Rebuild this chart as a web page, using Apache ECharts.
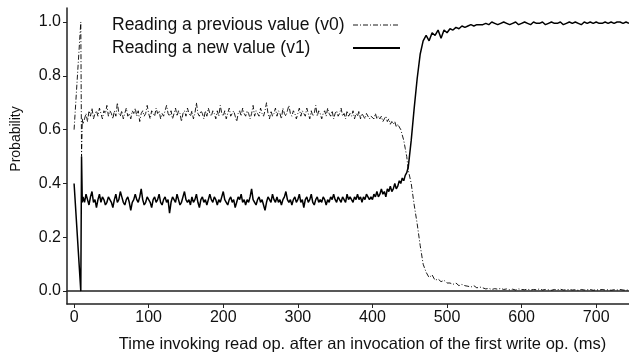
<!DOCTYPE html>
<html>
<head>
<meta charset="utf-8">
<script src="https://cdn.jsdelivr.net/npm/echarts@6/dist/echarts.min.js"></script>
<style>html,body{margin:0;padding:0;background:#fff}#c{width:629px;height:358px}</style>
</head>
<body>
<div id="c"></div>
<script>
// Sampling segments (ms): [start, step, count]
const segments = [[0,9,2],[10,1,2],[12,2,194],[400,2,24],[448,4,7],[476,4,18],[548,4,50]];

// Probability of reading the previous value (v0)
const v0Start = [0.60, 1.00, 0.50, 0.64];
const v0Plateau = [
0.62,0.64,0.66,0.63,0.67,0.65,0.68,0.64,0.66,0.67,
0.65,0.68,0.66,0.64,0.67,0.66,0.69,0.65,0.67,0.66,
0.64,0.67,0.65,0.70,0.66,0.65,0.67,0.64,0.66,0.68,
0.65,0.66,0.64,0.67,0.66,0.68,0.65,0.67,0.63,0.66,
0.67,0.65,0.66,0.69,0.66,0.64,0.67,0.66,0.65,0.68,
0.66,0.67,0.64,0.66,0.65,0.67,0.69,0.66,0.65,0.67,
0.64,0.66,0.68,0.65,0.67,0.66,0.63,0.66,0.67,0.65,
0.68,0.66,0.65,0.67,0.64,0.66,0.70,0.66,0.65,0.67,
0.66,0.64,0.67,0.65,0.68,0.66,0.65,0.67,0.66,0.64,
0.67,0.65,0.69,0.66,0.65,0.67,0.64,0.66,0.68,0.65,
0.66,0.67,0.65,0.63,0.66,0.67,0.65,0.68,0.66,0.65,
0.67,0.66,0.64,0.66,0.69,0.65,0.67,0.66,0.65,0.68,
0.66,0.65,0.67,0.70,0.66,0.64,0.67,0.65,0.66,0.68,
0.65,0.67,0.66,0.64,0.68,0.66,0.65,0.67,0.69,0.66,
0.65,0.67,0.66,0.64,0.66,0.68,0.65,0.67,0.66,0.65,
0.68,0.66,0.64,0.67,0.65,0.66,0.69,0.65,0.67,0.66,
0.64,0.66,0.67,0.65,0.68,0.66,0.65,0.67,0.64,0.66,
0.67,0.65,0.66,0.68,0.65,0.66,0.64,0.67,0.65,0.66,
0.65,0.67,0.64,0.66,0.65,0.67,0.64,0.66,0.65,0.64,
0.66,0.65,0.64,0.65];
const v0Decline = [0.65,0.64,0.66,0.64,0.65,0.64,0.65,0.63,0.64,0.65,0.63,0.64,
0.62,0.63,0.62,0.63,0.61,0.62,0.61,0.60,0.58,0.56,0.53,0.50];
const v0Drop = [0.45,0.40,0.32,0.25,0.17,0.10,0.07];
const v0Tail = [0.05,0.06,0.04,0.045,0.035,0.04,0.03,0.03,0.025,0.03,0.02,0.025,0.02,0.018,0.015,0.02,0.012,0.015];
const v0Flat = [
0.012,0.008,0.01,0.006,0.009,0.007,0.01,0.006,0.008,0.005,
0.007,0.004,0.008,0.006,0.005,0.007,0.004,0.006,0.005,0.008,
0.004,0.006,0.005,0.003,0.006,0.005,0.007,0.004,0.005,0.006,
0.004,0.005,0.003,0.006,0.004,0.005,0.006,0.003,0.005,0.004,
0.006,0.004,0.005,0.003,0.005,0.004,0.006,0.004,0.003,0.005];

// Probability of reading the new value (v1)
const v1Start = [0.40, 0.00, 0.50, 0.33];
const v1Plateau = [
0.35,0.33,0.36,0.34,0.32,0.35,0.37,0.33,0.34,0.31,
0.34,0.36,0.33,0.35,0.34,0.32,0.33,0.35,0.34,0.33,
0.31,0.34,0.36,0.33,0.34,0.37,0.35,0.33,0.32,0.34,
0.35,0.33,0.30,0.33,0.34,0.36,0.34,0.33,0.35,0.38,
0.34,0.32,0.33,0.35,0.34,0.33,0.31,0.34,0.35,0.33,
0.34,0.36,0.33,0.32,0.34,0.35,0.33,0.34,0.29,0.33,
0.35,0.34,0.33,0.36,0.34,0.32,0.33,0.35,0.37,0.34,
0.33,0.34,0.32,0.35,0.33,0.34,0.36,0.33,0.31,0.34,
0.35,0.33,0.34,0.32,0.34,0.36,0.34,0.33,0.35,0.34,
0.32,0.34,0.33,0.35,0.37,0.34,0.33,0.32,0.34,0.35,
0.33,0.34,0.31,0.33,0.35,0.34,0.36,0.33,0.34,0.32,
0.34,0.33,0.35,0.38,0.34,0.33,0.32,0.34,0.35,0.33,
0.34,0.32,0.30,0.33,0.35,0.34,0.33,0.36,0.34,0.33,
0.35,0.33,0.34,0.32,0.34,0.35,0.37,0.34,0.33,0.34,
0.32,0.34,0.35,0.33,0.34,0.36,0.33,0.34,0.31,0.34,
0.35,0.33,0.34,0.36,0.33,0.32,0.34,0.35,0.33,0.34,
0.33,0.35,0.34,0.32,0.34,0.33,0.35,0.34,0.36,0.34,
0.33,0.35,0.34,0.33,0.35,0.34,0.33,0.36,0.34,0.35,
0.34,0.33,0.35,0.34,0.36,0.34,0.35,0.33,0.35,0.34,
0.36,0.35,0.34,0.35];
const v1Rise = [0.34,0.36,0.35,0.37,0.35,0.36,0.38,0.36,0.37,0.35,0.38,0.37,
0.39,0.37,0.38,0.40,0.38,0.39,0.41,0.40,0.42,0.41,0.43,0.44];
const v1Jump = [0.46,0.56,0.68,0.79,0.88,0.93,0.95];
const v1Tail = [0.93,0.96,0.95,0.97,0.94,0.97,0.96,0.975,0.97,0.98,0.975,0.985,0.98,0.985,0.99,0.985,0.99,0.99];
const v1Flat = [
0.99,0.995,0.99,1.0,0.995,0.99,0.995,1.0,0.995,0.99,
0.995,1.0,0.99,0.995,1.0,0.995,0.99,1.0,0.995,0.995,
1.0,0.99,0.995,1.0,0.995,0.995,1.0,0.99,0.995,1.0,
0.995,1.0,0.995,0.99,1.0,0.995,1.0,0.995,1.0,0.995,
0.995,1.0,0.995,1.0,0.995,1.0,1.0,0.995,1.0,0.995];

const xTicks = [0,100,200,300,400,500,600,700];
const yTicks = [0,0.2,0.4,0.6,0.8,1.0];
const seriesNames = ['Reading a previous value (v0)', 'Reading a new value (v1)'];

const times = [];
segments.forEach(([s, st, n]) => { for (let i = 0; i < n; i++) times.push(s + i * st); });
const v0 = v0Start.concat(v0Plateau, v0Decline, v0Drop, v0Tail, v0Flat);
const v1 = v1Start.concat(v1Plateau, v1Rise, v1Jump, v1Tail, v1Flat);
const pairs = vals => times.map((t, i) => [t, vals[i]]);

const FONT = '"Liberation Sans", Arial, sans-serif';
const AX = '#222';
const DASHDOT = [5, 2, 1, 2];
const chart = echarts.init(document.getElementById('c'), null, {renderer: 'canvas'});
chart.setOption({
  animation: false,
  backgroundColor: '#fff',
  grid: {left: 67, right: 0, top: 8, bottom: 52, containLabel: false},
  legend: {show: false},
  graphic: [
    {type: 'text', left: 112, top: 16, style: {text: seriesNames[0], font: '17.5px ' + FONT, fill: '#111'}},
    {type: 'line', shape: {x1: 353, y1: 25, x2: 400, y2: 25}, style: {stroke: '#000', lineWidth: 0.9, lineDash: DASHDOT}},
    {type: 'text', left: 112, top: 39.5, style: {text: seriesNames[1], font: '17.5px ' + FONT, fill: '#111'}},
    {type: 'line', shape: {x1: 353, y1: 48, x2: 400, y2: 48}, style: {stroke: '#000', lineWidth: 2}}
  ],
  xAxis: [{
    type: 'value', min: -9.5, max: 744,
    axisLine: {show: true, onZero: false, lineStyle: {color: AX, width: 1.5}},
    axisTick: {show: true, length: 4, customValues: xTicks, lineStyle: {color: AX, width: 1}},
    axisLabel: {customValues: xTicks, margin: 6, fontFamily: FONT, fontSize: 16, color: '#111'},
    splitLine: {show: false},
    name: 'Time invoking read op. after an invocation of the first write op. (ms)',
    nameLocation: 'middle', nameGap: 32,
    nameTextStyle: {fontFamily: FONT, fontSize: 16.5, color: '#111', padding: [0,0,0,29]}
  }, {
    type: 'value', min: -9.5, max: 744, position: 'top',
    axisLine: {show: true, lineStyle: {color: AX, width: 1.5}},
    axisTick: {show: false}, axisLabel: {show: false}, splitLine: {show: false}
  }],
  yAxis: {
    type: 'value', min: -0.048, max: 1.052,
    axisLine: {show: true, onZero: false, lineStyle: {color: AX, width: 1.5}},
    axisTick: {show: true, length: 4, customValues: yTicks, lineStyle: {color: AX, width: 1}},
    axisLabel: {customValues: yTicks, margin: 6, fontFamily: FONT, fontSize: 16, color: '#111',
      formatter: v => v.toFixed(1)},
    splitLine: {show: false},
    name: 'Probability', nameLocation: 'middle', nameGap: 44,
    nameTextStyle: {fontFamily: FONT, fontSize: 14, color: '#111', padding: [0,0,0,34]}
  },
  series: [{
    name: seriesNames[0], type: 'line', data: pairs(v0), symbol: 'none', z: 3,
    color: '#000',
    lineStyle: {color: '#000', width: 0.9, type: DASHDOT}
  }, {
    name: seriesNames[1], type: 'line', data: pairs(v1), symbol: 'none', z: 2,
    color: '#000',
    lineStyle: {color: '#000', width: 1.5, type: 'solid'}
  }]
});
</script>
</body>
</html>
